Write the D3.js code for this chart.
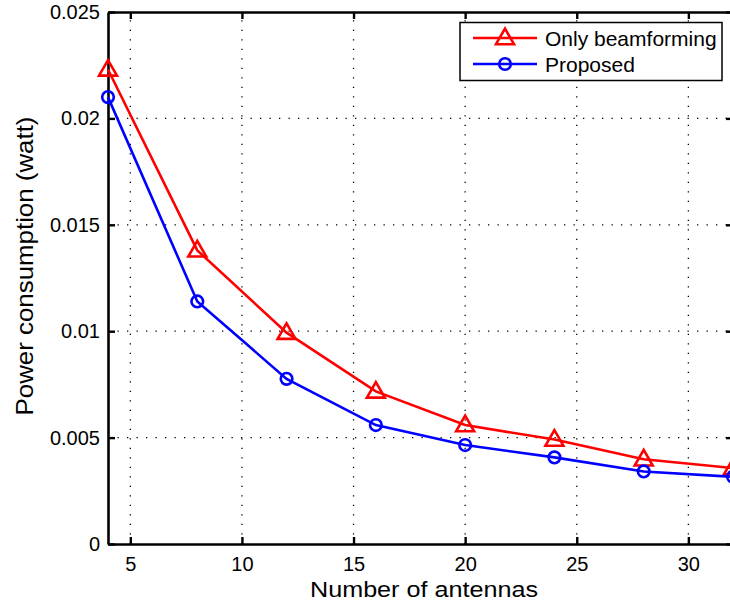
<!DOCTYPE html>
<html><head><meta charset="utf-8">
<script src="https://cdn.jsdelivr.net/npm/d3@7"></script>
<style>body{margin:0;background:#fff}svg{display:block}text{font-family:"Liberation Sans",Arial,sans-serif}</style>
</head><body>
<script>
const antennas = [4, 8, 12, 16, 20, 24, 28, 32];
const onlyBeamforming = [0.0223, 0.0138, 0.00993, 0.00717, 0.00559, 0.00491, 0.00398, 0.00357];
const proposed = [0.0210, 0.01140, 0.00776, 0.00559, 0.00465, 0.00407, 0.00341, 0.00316];
const xTicks = [5, 10, 15, 20, 25, 30];
const yTicks = [0, 0.005, 0.01, 0.015, 0.02, 0.025];
const yTickLabels = ["0", "0.005", "0.01", "0.015", "0.02", "0.025"];
const seriesNames = ["Only beamforming", "Proposed"];

const W = 730, H = 609;
const svg = d3.select("body").append("svg").attr("width", W).attr("height", H);
const x = d3.scaleLinear().domain([4, 32]).range([108, 733]);
const y = d3.scaleLinear().domain([0, 0.025]).range([544, 12]);
const L = 108, R = 733, T = 12, B = 544;

// grid
const grid = svg.append("g").attr("stroke", "#000").attr("stroke-width", 1.3).attr("stroke-dasharray", "1.3,8.2");
xTicks.forEach(v => grid.append("line").attr("x1", x(v)).attr("x2", x(v)).attr("y1", B).attr("y2", T));
yTicks.slice(1, -1).forEach(v => grid.append("line").attr("x1", L).attr("x2", R).attr("y1", y(v)).attr("y2", y(v)));

// axes with inward ticks
const axB = d3.axisBottom(x).tickValues(xTicks).tickSizeInner(-7).tickSizeOuter(0).tickPadding(13);
const axT = d3.axisTop(x).tickValues(xTicks).tickSizeInner(-7).tickSizeOuter(0).tickFormat("");
const axL = d3.axisLeft(y).tickValues(yTicks).tickSizeInner(-7).tickSizeOuter(0).tickPadding(8)
  .tickFormat((d, i) => yTickLabels[i]);
const axR = d3.axisRight(y).tickValues(yTicks).tickSizeInner(-7).tickSizeOuter(0).tickFormat("");
function style(g) {
  g.selectAll(".domain").attr("stroke", "#000").attr("stroke-width", 2.6);
  g.selectAll(".tick line").attr("stroke", "#000").attr("stroke-width", 2.4);
  g.selectAll(".tick text").attr("font-size", 20).attr("fill", "#000")
    .attr("font-family", "Liberation Sans, Arial, sans-serif");
}
svg.append("g").attr("transform", `translate(0,${B})`).call(axB).call(style);
svg.append("g").attr("transform", `translate(0,${T})`).call(axT).call(style);
svg.append("g").attr("transform", `translate(${L},0)`).call(axL).call(style);
svg.append("g").attr("transform", `translate(${R},0)`).call(axR).call(style);

// series
const line = d3.line().x((d, i) => x(antennas[i])).y(d => y(d));
const tri = d3.symbol().type(d3.symbolTriangle).size(140);
function drawSeries(vals, color, marker) {
  svg.append("path").datum(vals).attr("d", line).attr("fill", "none")
    .attr("stroke", color).attr("stroke-width", 2.6);
  const g = svg.append("g");
  vals.forEach((v, i) => {
    if (marker === "tri") {
      g.append("path").attr("d", tri()).attr("transform", `translate(${x(antennas[i])},${y(v) + 1})`)
        .attr("fill", "none").attr("stroke", color).attr("stroke-width", 2.6);
    } else {
      g.append("circle").attr("cx", x(antennas[i])).attr("cy", y(v)).attr("r", 5.8)
        .attr("fill", "none").attr("stroke", color).attr("stroke-width", 2.6);
    }
  });
}
drawSeries(onlyBeamforming, "#ff0000", "tri");
drawSeries(proposed, "#0000ff", "circ");

// legend
const lg = svg.append("g");
lg.append("rect").attr("x", 460).attr("y", 22.5).attr("width", 262).attr("height", 58)
  .attr("fill", "#fff").attr("stroke", "#000").attr("stroke-width", 1.5);
const legendItems = [{name: seriesNames[0], color: "#ff0000", m: "tri", yy: 38},
                     {name: seriesNames[1], color: "#0000ff", m: "circ", yy: 64}];
legendItems.forEach(it => {
  lg.append("line").attr("x1", 473).attr("x2", 537).attr("y1", it.yy).attr("y2", it.yy)
    .attr("stroke", it.color).attr("stroke-width", 2.6);
  if (it.m === "tri") lg.append("path").attr("d", tri()).attr("transform", `translate(505,${it.yy + 1})`)
    .attr("fill", "none").attr("stroke", it.color).attr("stroke-width", 2.6);
  else lg.append("circle").attr("cx", 505).attr("cy", it.yy).attr("r", 5.8)
    .attr("fill", "none").attr("stroke", it.color).attr("stroke-width", 2.6);
  lg.append("text").attr("x", 545).attr("y", it.yy).attr("dy", "0.36em").attr("font-size", 21)
    .text(it.name);
});

// axis labels
svg.append("text").attr("x", 424).attr("y", 597).attr("text-anchor", "middle").attr("font-size", 22)
  .attr("textLength", 228).attr("lengthAdjust", "spacingAndGlyphs").text("Number of antennas");
svg.append("text").attr("transform", "translate(33,266) rotate(-90)").attr("text-anchor", "middle")
  .attr("font-size", 24).attr("textLength", 299).attr("lengthAdjust", "spacingAndGlyphs")
  .text("Power consumption (watt)");
</script>
</body></html>
